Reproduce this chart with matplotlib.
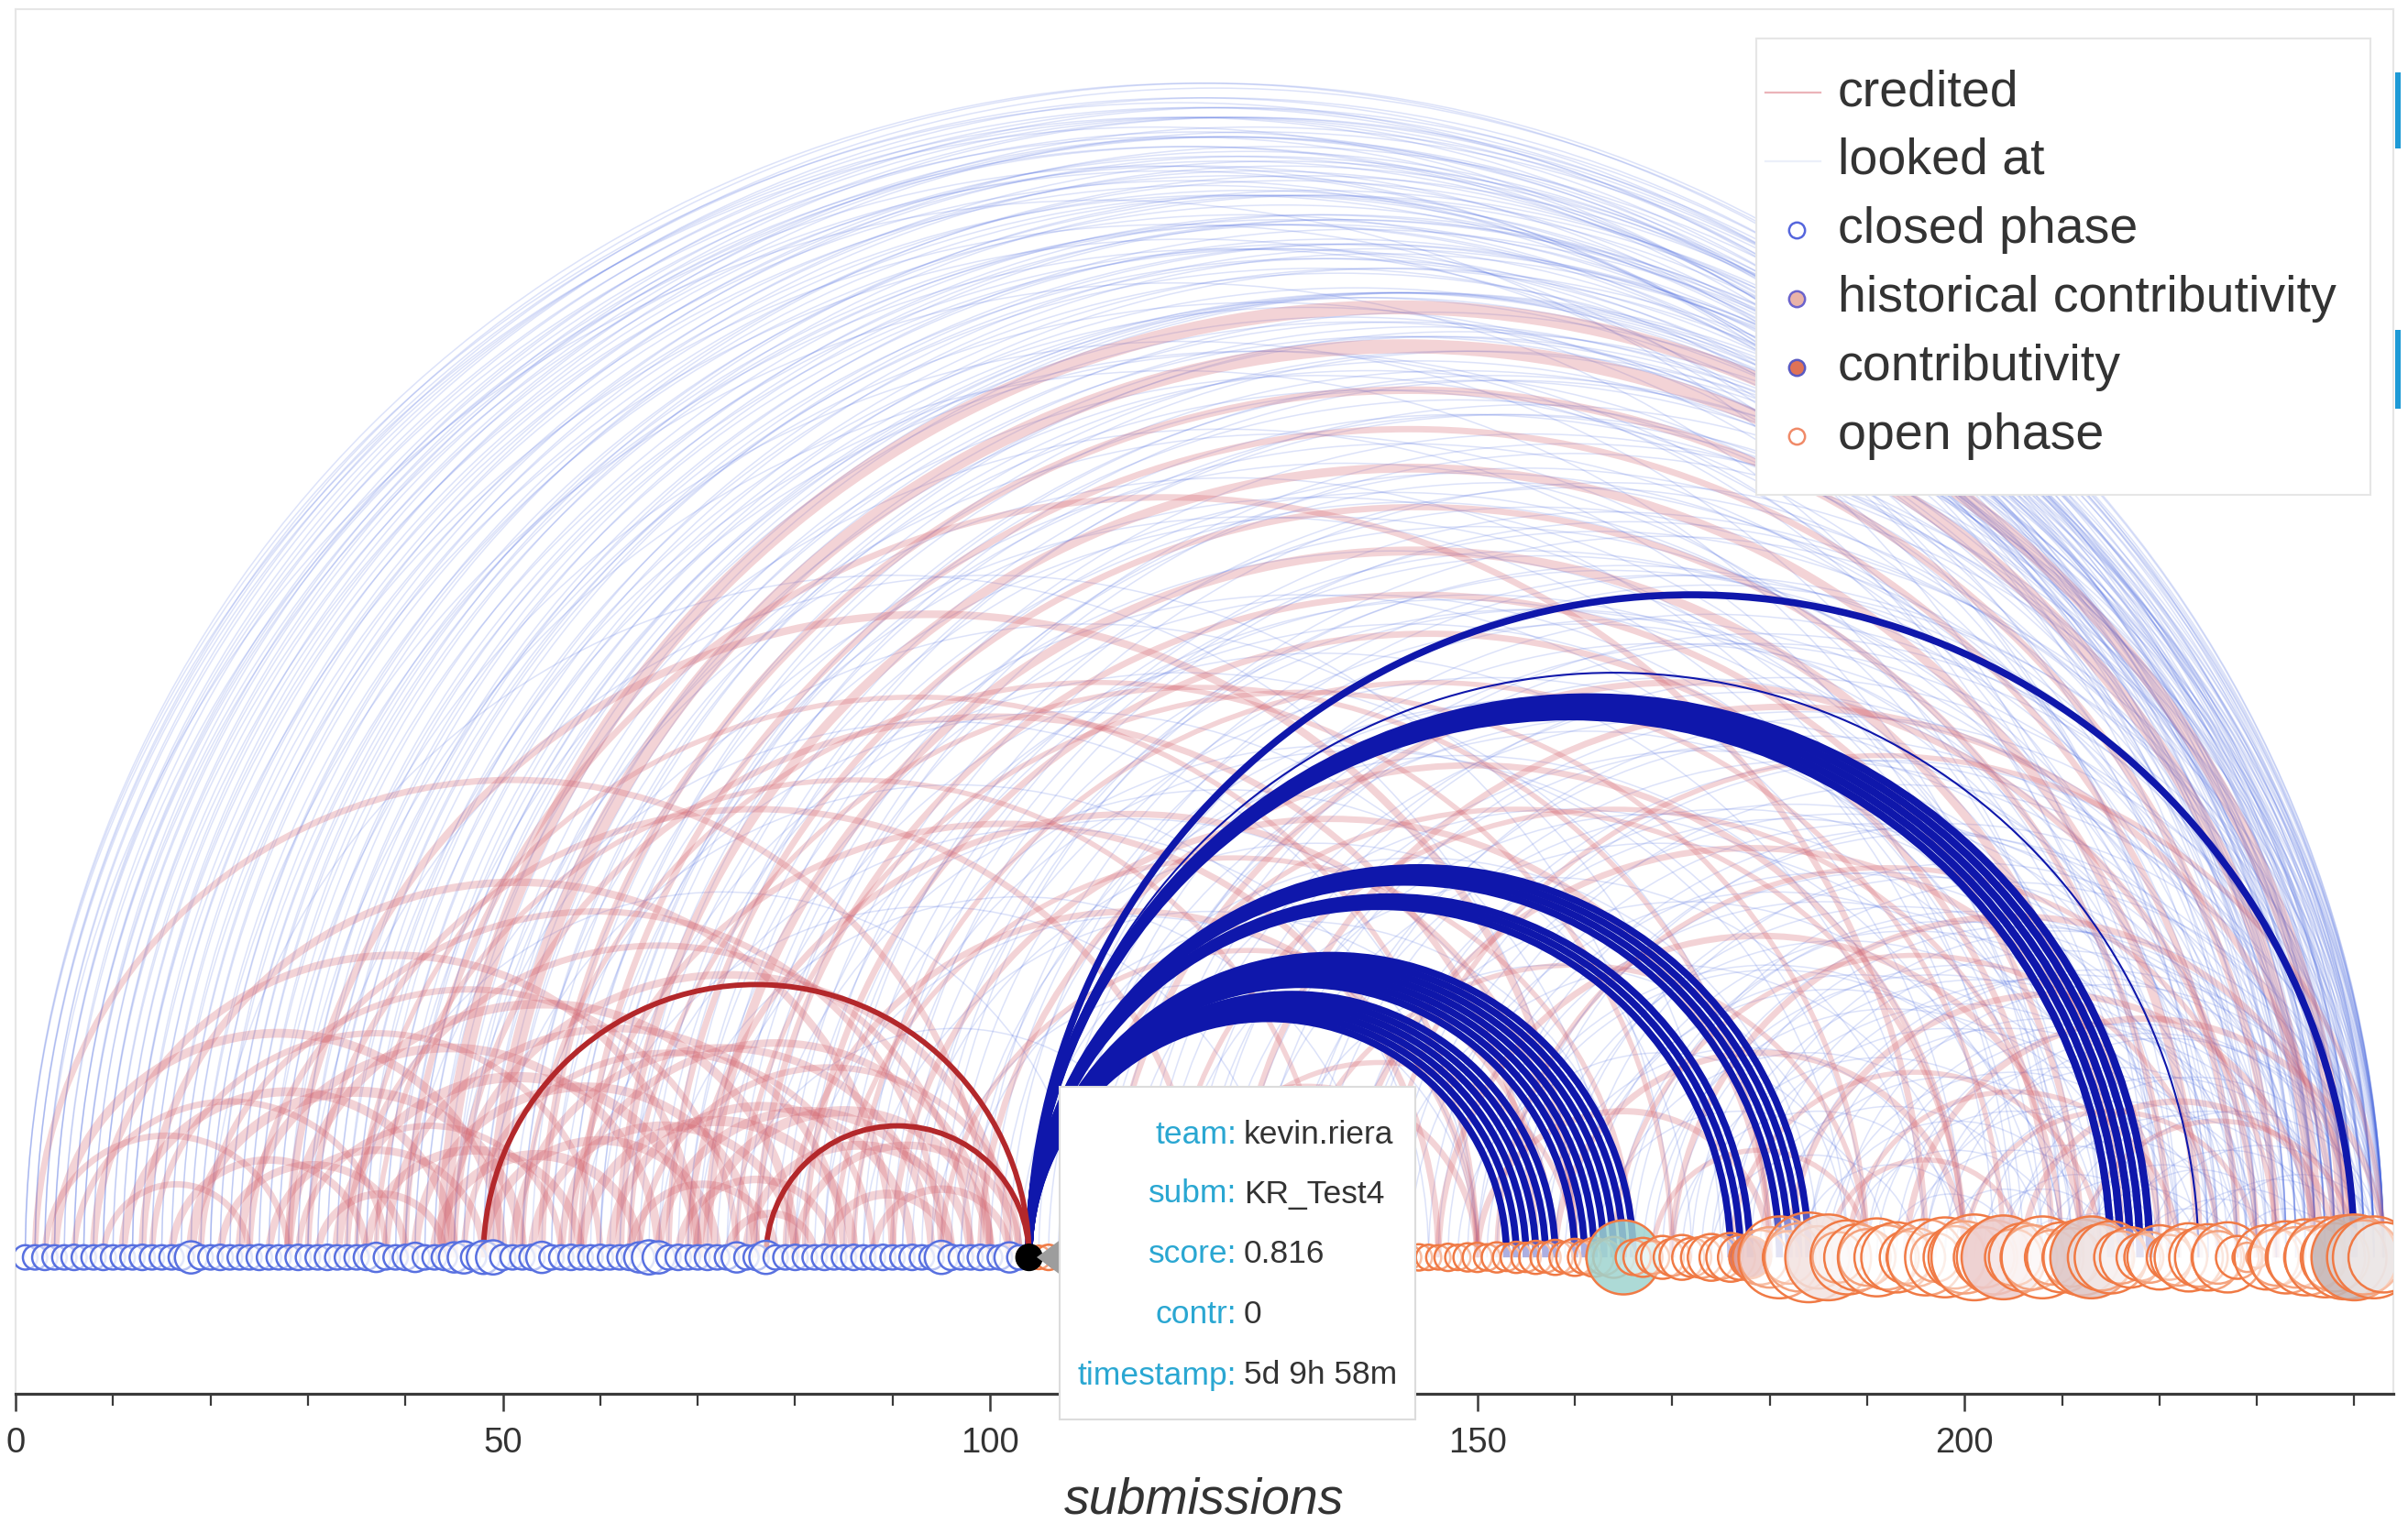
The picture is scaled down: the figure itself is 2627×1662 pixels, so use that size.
import matplotlib
matplotlib.use("Agg")
import matplotlib.pyplot as plt
from matplotlib.patches import Arc, Circle, Rectangle, Polygon
from matplotlib.lines import Line2D
from matplotlib.ticker import MultipleLocator
from matplotlib.colors import to_rgba

plt.rcParams['font.family'] = ['Liberation Sans', 'DejaVu Sans']

# ---------------------------------------------------------------- data
# node diameters (x units) for closed-phase submissions 1..103
closed_x = list(range(1, 104))
closed_size = [
    2.5, 2.5, 2.6, 2.5, 2.5, 2.6, 2.5, 2.5, 2.6, 2.5,
    2.5, 2.5, 2.6, 2.5, 2.5, 2.5, 2.6, 3.3, 2.5, 2.5,
    2.6, 2.5, 2.5, 2.5, 2.6, 2.5, 2.5, 2.5, 2.6, 2.5,
    2.5, 2.6, 2.5, 2.5, 2.5, 2.6, 3.0, 2.5, 2.5, 2.6,
    3.0, 2.5, 2.5, 2.6, 3.1, 3.3, 2.6, 3.4, 3.5, 2.6,
    2.5, 2.5, 2.6, 3.2, 2.5, 2.5, 2.6, 2.5, 2.5, 2.6,
    2.5, 2.5, 2.6, 3.1, 3.5, 3.3, 2.5, 2.6, 2.5, 2.5,
    2.6, 2.5, 2.5, 3.1, 2.5, 2.6, 3.4, 2.5, 2.5, 2.6,
    2.5, 2.5, 2.6, 2.5, 2.5, 2.6, 2.5, 2.5, 2.6, 2.5,
    2.5, 2.6, 2.5, 2.5, 3.4, 2.6, 2.5, 2.5, 2.6, 2.5,
    2.5, 3.1, 2.5,
]
# node diameters for open-phase submissions 105..243
open_x = list(range(105, 244))
open_size = [
    2.4, 2.6, 2.4, 2.8, 2.5, 2.4, 2.7, 2.5, 2.4, 2.6,
    2.5, 2.4, 2.8, 2.6, 2.4, 2.5, 2.7, 2.4, 2.6, 2.5,
    2.4, 2.8, 2.5, 2.6, 2.4, 2.7, 2.5, 2.4, 2.6, 2.8,
    2.5, 2.4, 2.7, 2.6, 2.5, 2.4, 2.8, 2.6, 2.5, 2.7,
    2.6, 2.5, 2.8, 2.6, 2.9, 3.0, 2.7, 3.1, 2.8, 3.2,
    3.0, 3.4, 3.1, 3.6, 3.2, 3.8, 3.4, 4.0, 3.6, 4.2,
    7.6, 3.6, 4.0, 3.4, 4.4, 3.8, 4.6, 4.0, 4.2, 4.8,
    4.4, 5.0, 4.6, 4.3, 5.6, 6.2, 8.4, 5.4, 7.0, 9.2,
    6.4, 8.8, 5.2, 7.6, 6.8, 5.8, 8.0, 6.6, 7.2, 5.4,
    6.0, 7.8, 5.0, 8.2, 6.4, 7.4, 8.8, 6.2, 7.6, 8.6,
    5.8, 7.0, 6.6, 8.4, 5.6, 7.2, 6.0, 7.8, 8.4, 6.8,
    7.4, 5.4, 6.2, 4.8, 5.2, 6.6, 4.6, 5.8, 7.0, 6.0,
    6.8, 5.4, 7.2, 4.4, 3.0, 2.2, 6.6, 5.8, 7.4, 6.2,
    7.8, 6.4, 8.2, 7.0, 8.6, 8.8, 7.6, 8.4, 7.2,
]
# open-phase submissions with a contributivity fill
contrib_x = [165, 178, 186, 204, 213, 240]
contrib_fill = ['#9fd4cf', '#c8605a', '#f3e2e0', '#eccaca', '#dcc4c4', '#c2b2b2']

# hovered submission and its tooltip
hover_x = 104
hover_size = 2.7
tip_keys = ['team:', 'subm:', 'score:', 'contr:', 'timestamp:']
tip_vals = ['kevin.riera', 'KR_Test4', '0.816', '0', '5d 9h 58m']

# "looked at" links (source, target)
looked_links = [
    (1, 242), (2, 240), (2, 236), (3, 243), (4, 238), (5, 241), (5, 229), (6, 234),
    (8, 242), (9, 239), (10, 231), (11, 243), (12, 237), (13, 225), (14, 240), (15, 233),
    (17, 242), (18, 236), (19, 219), (20, 241), (21, 228), (22, 238), (24, 243), (25, 232),
    (26, 214), (27, 239), (29, 242), (30, 226), (31, 236), (33, 241), (34, 220), (35, 230),
    (37, 243), (38, 237), (39, 209), (40, 233), (42, 240), (43, 224), (44, 242), (46, 215),
    (47, 236), (49, 240), (50, 228), (51, 203), (53, 243), (54, 232), (55, 218), (57, 239),
    (58, 210), (59, 226), (61, 242), (62, 235), (64, 200), (65, 238), (66, 221), (68, 243),
    (69, 230), (69, 214), (71, 240), (72, 196), (74, 236), (75, 225), (77, 242), (78, 208),
    (79, 233), (81, 239), (82, 218), (84, 243), (85, 229), (86, 190), (88, 237), (89, 222),
    (90, 241), (92, 211), (93, 234), (95, 243), (96, 226), (97, 200), (99, 239), (100, 231),
    (101, 216), (102, 242), (103, 185),
    (3, 220), (7, 230), (16, 225), (23, 235), (28, 210), (32, 243), (36, 222), (41, 238),
    (45, 205), (48, 230), (52, 241), (56, 212), (60, 236), (63, 220), (67, 240), (70, 206),
    (73, 232), (76, 243), (80, 215), (83, 228), (87, 240), (91, 224), (94, 236), (98, 212),
    (1, 238), (1, 233), (2, 243), (3, 239), (4, 234), (4, 242), (6, 240), (6, 237),
    (7, 243), (7, 235), (8, 238), (9, 243), (9, 233), (10, 240), (11, 237), (12, 243),
    (12, 232), (13, 240), (14, 236), (15, 243), (16, 239), (17, 236), (18, 242), (19, 233),
    (20, 238), (21, 243), (22, 234), (23, 241), (24, 237), (25, 243), (26, 240), (27, 234),
    (28, 242), (29, 237), (30, 243), (31, 240), (32, 235), (33, 238), (34, 242), (35, 237),
    (36, 243), (38, 241), (39, 236), (40, 243), (41, 239), (42, 234), (43, 241), (45, 243),
    (46, 238), (48, 242), (50, 239), (52, 236), (55, 241), (57, 243), (60, 240), (63, 243),
    (105, 243), (106, 232), (108, 240), (110, 221), (112, 238), (113, 205), (115, 243),
    (117, 228), (118, 196), (120, 236), (122, 241), (123, 214), (125, 230), (127, 239),
    (128, 188), (130, 222), (132, 243), (133, 235), (135, 208), (137, 227), (138, 240),
    (140, 200), (142, 233), (143, 218), (145, 242), (147, 226), (148, 190), (150, 238),
    (151, 210), (152, 231), (154, 243), (155, 220), (156, 199), (158, 236), (159, 214),
    (160, 241), (161, 228), (162, 192), (163, 205), (164, 233), (166, 243), (167, 218),
    (168, 226), (169, 238), (170, 200), (171, 212), (172, 240), (173, 230), (174, 195),
    (175, 222), (176, 243), (177, 208), (179, 236), (180, 217), (181, 228), (182, 240),
    (183, 202), (184, 233), (185, 213), (186, 224), (187, 243), (188, 210), (189, 237),
    (190, 220), (191, 230), (192, 205), (193, 241), (194, 216), (195, 226), (196, 235),
    (197, 211), (198, 243), (199, 222), (200, 232), (201, 215), (202, 239), (203, 220),
    (204, 228), (205, 242), (206, 214), (207, 236), (208, 224), (209, 218), (210, 240),
    (211, 230), (212, 226), (213, 243), (214, 221), (215, 233), (216, 238), (218, 228),
    (219, 242), (220, 232), (222, 236), (224, 240), (226, 243), (228, 238),
    (107, 215), (111, 230), (116, 242), (121, 225), (126, 211), (131, 238), (136, 229),
    (141, 243), (146, 235), (149, 222), (153, 240), (157, 229), (165, 236), (178, 241),
    (170, 230), (160, 218), (174, 226), (184, 243), (190, 236), (196, 242), (150, 210),
    (20, 160), (30, 170), (40, 150), (45, 175), (52, 164), (60, 180), (62, 150), (70, 160),
    (76, 172), (80, 150), (83, 188), (87, 158), (91, 176), (94, 150), (97, 166), (58, 130),
    (66, 140), (73, 120), (35, 110), (48, 145),
]

# "credited" links (source, target, width in points)
credited_links = [
    (2, 100, 5), (3, 28, 5), (4, 50, 7), (6, 38, 5), (8, 70, 6), (9, 24, 5), (11, 45, 7),
    (13, 90, 6), (14, 60, 5), (16, 36, 6), (18, 52, 8), (19, 74, 5), (21, 40, 6), (23, 66, 7),
    (24, 95, 5), (26, 48, 6), (28, 80, 7), (29, 56, 5), (31, 44, 6), (33, 70, 8), (34, 98, 5),
    (36, 58, 7), (38, 85, 6), (41, 76, 7), (43, 64, 8), (44, 102, 6), (46, 88, 5),
    (48, 72, 7), (51, 94, 6), (53, 80, 7), (56, 100, 6), (58, 86, 8),
    (61, 92, 7), (63, 78, 6), (64, 103, 5), (66, 96, 7), (68, 84, 6), (70, 100, 8),
    (73, 82, 6), (75, 98, 7), (80, 103, 6), (83, 96, 7), (88, 102, 6),
    (44, 239, 11), (49, 236, 11), (54, 232, 6), (58, 228, 5), (62, 224, 7), (67, 221, 5),
    (71, 216, 7), (76, 212, 5), (81, 209, 5), (86, 204, 4),
    (28, 160, 6), (35, 150, 4), (40, 196, 5), (30, 122, 5), (37, 135, 4), (45, 156, 5),
    (52, 170, 4), (57, 146, 5), (63, 180, 4), (69, 160, 5), (74, 190, 4), (79, 150, 5),
    (84, 166, 4), (90, 180, 5), (95, 158, 4), (99, 200, 5),
    (108, 200, 4), (112, 230, 5), (118, 210, 4), (125, 238, 5), (130, 190, 4), (136, 220, 5),
    (140, 243, 4), (146, 212, 5), (152, 232, 4), (158, 200, 5), (164, 226, 4), (170, 240, 5),
    (176, 214, 4), (182, 236, 5), (188, 222, 4), (194, 243, 5), (200, 230, 4), (206, 238, 5),
    (212, 240, 4), (168, 190, 4), (186, 206, 4), (150, 180, 5), (120, 160, 4), (115, 150, 5),
]

# links of the hovered submission
hover_looked_dst = [153, 154, 155, 156, 157, 158, 160, 161, 162, 163, 164, 165, 166,
                    176, 177, 178, 181, 182, 183, 184, 215, 216, 217, 218, 219, 224, 240]
hover_looked_lw = [5.5, 5.5, 5.5, 5.5, 5.5, 5.5, 5.5, 5.5, 5.5, 5.5, 5.5, 5.5, 5.5,
                   5.5, 5.5, 5.5, 5.5, 5.5, 5.5, 5.5, 6, 6, 6, 6, 6, 1.5, 5.5]
hover_credited_src = [48, 77]

xticks = [0, 50, 100, 150, 200]

# legend entries
legend_labels = ['credited', 'looked at', 'closed phase', 'historical contributivity',
                 'contributivity', 'open phase']

# ---------------------------------------------------------------- styles
W, H = 2627, 1662
LOOK_C = '#4a69e0'
CRED_C = '#d4646e'
HL_BLUE = '#0f17ab'
HL_RED = '#b3282b'
CLOSED_EDGE = '#5870e0'
OPEN_EDGE = '#f07a45'
TEXT_C = '#333333'
KEY_C = '#2aa7d2'

fig = plt.figure(figsize=(W / 100, H / 100), dpi=100)
ax = fig.add_axes([17 / W, 141 / H, 2594 / W, 1511 / H])
ax.set_xlim(0, 244)
ax.set_ylim(-14.0, 128.1)


def arc(a, b, color, lw, alpha, z):
    c = (a + b) / 2.0
    d = abs(b - a)
    ax.add_patch(Arc((c, 0), d, d, theta1=0, theta2=180, color=color,
                     lw=lw, alpha=alpha, zorder=z, capstyle='butt'))


for s, t in looked_links:
    arc(s, t, LOOK_C, 1.1, 0.19, 1)
for s, t, w in credited_links:
    arc(s, t, CRED_C, w, 0.28, 2)

for t, w in zip(hover_looked_dst, hover_looked_lw):
    arc(hover_x, t, HL_BLUE, w, 1.0, 4)
for s in hover_credited_src:
    arc(s, hover_x, HL_RED, 4.2, 1.0, 4)

# nodes
for x, d in zip(closed_x, closed_size):
    ax.add_patch(Circle((x, 0), d / 2, facecolor=(1, 1, 1, 0.6),
                        edgecolor=CLOSED_EDGE, lw=1.8, zorder=5))
fills = dict(zip(contrib_x, contrib_fill))
for x, d in zip(open_x, open_size):
    fc = fills.get(x)
    face = (1, 1, 1, 0.3) if fc is None else to_rgba(fc, 0.85)
    ax.add_patch(Circle((x, 0), d / 2, facecolor=face,
                        edgecolor=OPEN_EDGE, lw=1.8, zorder=5))
ax.add_patch(Circle((hover_x, 0), hover_size / 2, facecolor='black',
                    edgecolor='black', lw=1, zorder=6))

# axes styling
for side in ['left', 'top', 'right']:
    ax.spines[side].set_color('#e6e6e6')
    ax.spines[side].set_linewidth(1.5)
ax.spines['bottom'].set_color('#3a3a3a')
ax.spines['bottom'].set_linewidth(2.3)
ax.set_yticks([])
ax.set_xticks(xticks)
ax.xaxis.set_minor_locator(MultipleLocator(10))
ax.tick_params(axis='x', which='major', length=14, width=1.8, color='#3a3a3a',
               labelsize=27.5, labelcolor=TEXT_C, pad=12)
ax.tick_params(axis='x', which='minor', length=9.5, width=1.6, color='#3a3a3a')
ax.set_xlabel('submissions', fontsize=40, style='italic', color=TEXT_C, labelpad=13)


def fx(px):
    return px / W


def fy(py):
    return 1 - py / H


# legend box drawn in figure pixels
fig.add_artist(Rectangle((fx(1916), fy(540)), (2586 - 1916) / W, (540 - 42) / H,
                         transform=fig.transFigure, facecolor='white', edgecolor='#e6e6e6',
                         lw=1.5, zorder=12))
row_y = [101, 176, 251, 326, 401, 476]
line_cols = ['#ebb4b9', '#eceff9']
marker_styles = [('white', '#5566dd'), ('#e9b3a9', '#6b63cc'),
                 ('#df7256', '#5a5ac2'), ('white', '#f08a68')]
for i, (lab, py) in enumerate(zip(legend_labels, row_y)):
    if i < 2:
        fig.add_artist(Line2D([fx(1926), fx(1986)], [fy(py), fy(py)], color=line_cols[i],
                              lw=1.6, transform=fig.transFigure, zorder=13))
    else:
        mfc, mec = marker_styles[i - 2]
        fig.add_artist(Line2D([fx(1960)], [fy(py)], ls='none', marker='o', ms=12.5,
                              mfc=mfc, mec=mec, mew=1.8, transform=fig.transFigure,
                              zorder=13))
    fig.text(fx(2005), fy(py), lab, ha='left', va='center', fontsize=40, color=TEXT_C,
             zorder=13)

# tooltip
fig.add_artist(Polygon([(fx(1131), fy(1372)), (fx(1158), fy(1352)), (fx(1158), fy(1392))],
                       closed=True, transform=fig.transFigure, facecolor='#9d9d9d',
                       edgecolor='none', zorder=9))
fig.add_artist(Rectangle((fx(1156), fy(1549)), (1544 - 1156) / W, (1549 - 1186) / H,
                         transform=fig.transFigure, facecolor='white', edgecolor='#dcdcdc',
                         lw=1.5, zorder=10))
tip_y = [1238, 1303, 1368, 1434, 1501]
for k, v, py in zip(tip_keys, tip_vals, tip_y):
    fig.text(fx(1349), fy(py), k, ha='right', va='center', fontsize=25.5, color=KEY_C, zorder=11)
    fig.text(fx(1357), fy(py), v, ha='left', va='center', fontsize=25.5, color=TEXT_C, zorder=11)

# side toolbar marks
for y0, y1 in [(79, 162), (360, 446)]:
    fig.add_artist(Rectangle((fx(2613), fy(y1)), 6 / W, (y1 - y0) / H,
                             transform=fig.transFigure, facecolor='#1e9ad6',
                             edgecolor='none', zorder=10))

fig.savefig('out.png', dpi=100)
